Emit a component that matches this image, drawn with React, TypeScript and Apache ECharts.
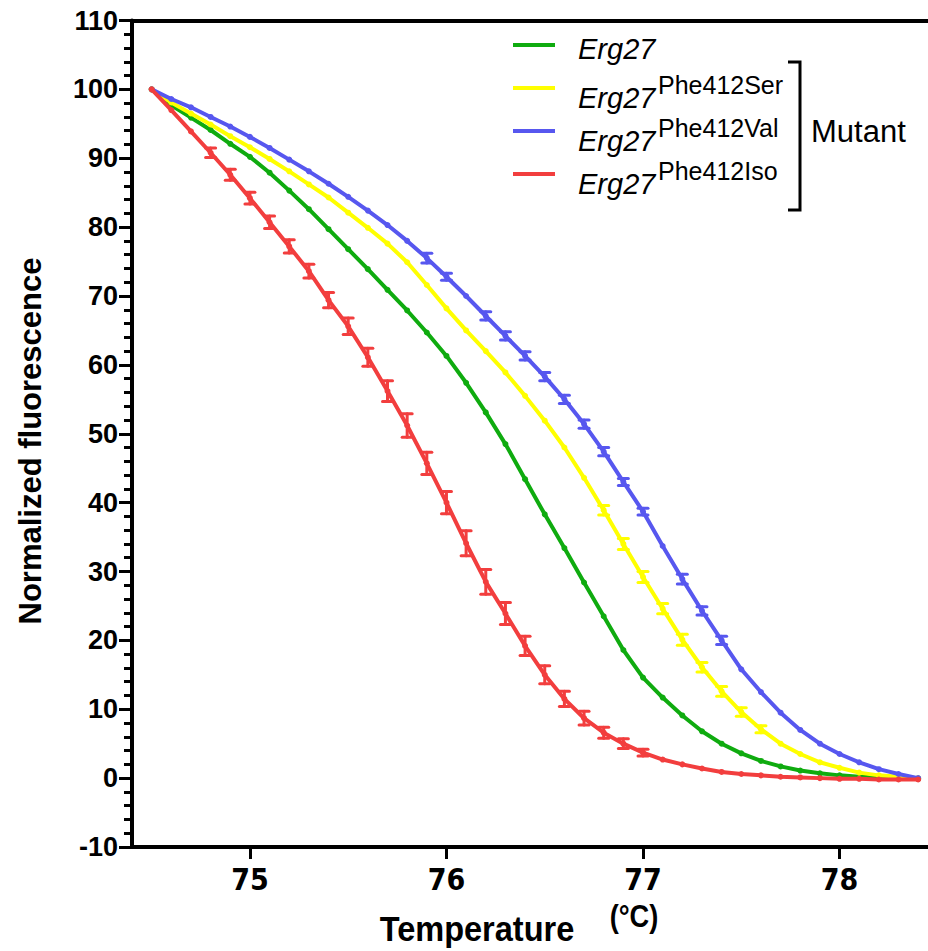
import React, { useEffect, useRef } from "react";
import * as echarts from "echarts";

// ---- data ----
const temperatures = [
  74.5, 74.6, 74.7, 74.8, 74.9, 75.0, 75.1, 75.2, 75.3, 75.4,
  75.5, 75.6, 75.7, 75.8, 75.9, 76.0, 76.1, 76.2, 76.3, 76.4,
  76.5, 76.6, 76.7, 76.8, 76.9, 77.0, 77.1, 77.2, 77.3, 77.4,
  77.5, 77.6, 77.7, 77.8, 77.9, 78.0, 78.1, 78.2, 78.3, 78.4,
];

const wildType = [
  100, 97.7, 95.9, 94.1, 92.1, 90.2, 87.9, 85.3, 82.6, 79.7,
  76.8, 73.9, 70.9, 67.9, 64.7, 61.3, 57.4, 53.1, 48.5, 43.4,
  38.3, 33.4, 28.4, 23.5, 18.6, 14.6, 11.7, 9.1, 6.8, 5.0,
  3.6, 2.5, 1.7, 1.1, 0.7, 0.4, 0.2, 0.1, 0.0, -0.1,
];
const wildTypeErr = [
  0, 0.1, 0.1, 0.1, 0.1, 0.1, 0.1, 0.1, 0.1, 0.1,
  0.1, 0.1, 0.1, 0.1, 0.1, 0.1, 0.1, 0.1, 0.1, 0.1,
  0.1, 0.1, 0.1, 0.1, 0.1, 0.1, 0.1, 0.1, 0.1, 0.1,
  0.1, 0.1, 0.1, 0.1, 0.1, 0.1, 0.1, 0.1, 0.1, 0.1,
];

const phe412Ser = [
  100, 98.1, 96.5, 94.9, 93.2, 91.6, 89.9, 88.1, 86.2, 84.3,
  82.1, 79.9, 77.6, 74.9, 71.6, 68.2, 65.0, 62.0, 58.9, 55.5,
  51.9, 48.0, 43.6, 38.9, 34.0, 29.2, 24.6, 20.1, 16.1, 12.6,
  9.6, 7.1, 5.0, 3.5, 2.3, 1.5, 0.8, 0.4, 0.2, 0.0,
];
const phe412SerErr = [
  0, 0.2, 0.2, 0.2, 0.2, 0.2, 0.2, 0.2, 0.2, 0.2,
  0.2, 0.2, 0.3, 0.3, 0.3, 0.3, 0.3, 0.3, 0.3, 0.3,
  0.3, 0.3, 0.3, 0.7, 0.8, 0.8, 0.75, 0.8, 0.7, 0.7,
  0.6, 0.5, 0.3, 0.2, 0.2, 0.1, 0.1, 0.1, 0.1, 0.1,
];

const phe412Val = [
  100, 98.6, 97.4, 96.0, 94.6, 93.1, 91.5, 89.8, 88.1, 86.3,
  84.4, 82.4, 80.3, 78.0, 75.5, 72.8, 70.0, 67.1, 64.2, 61.3,
  58.3, 55.0, 51.4, 47.4, 43.0, 38.7, 33.7, 28.9, 24.3, 20.0,
  15.8, 12.5, 9.5, 7.0, 5.0, 3.5, 2.3, 1.3, 0.6, 0.0,
];
const phe412ValErr = [
  0, 0.2, 0.2, 0.2, 0.2, 0.2, 0.2, 0.2, 0.2, 0.2,
  0.2, 0.2, 0.3, 0.3, 0.7, 0.5, 0.3, 0.6, 0.6, 0.6,
  0.6, 0.6, 0.6, 0.6, 0.5, 0.5, 0.3, 0.7, 0.6, 0.6,
  0.3, 0.2, 0.2, 0.2, 0.1, 0.1, 0.1, 0.1, 0.1, 0.1,
];

const phe412Iso = [
  100, 97.0, 93.9, 90.8, 87.6, 84.2, 80.7, 77.2, 73.6, 69.4,
  65.6, 61.1, 56.2, 51.2, 45.7, 40.0, 34.1, 28.5, 23.9, 19.2,
  15.0, 11.5, 8.7, 6.6, 5.0, 3.7, 2.7, 2.0, 1.4, 0.9,
  0.6, 0.4, 0.2, 0.1, 0.0, -0.1, -0.1, -0.2, -0.2, -0.2,
];
const phe412IsoErr = [
  0, 0.3, 0.3, 0.7, 0.8, 0.85, 0.9, 0.95, 1.0, 1.1,
  1.2, 1.3, 1.5, 1.7, 1.6, 1.6, 1.8, 1.8, 1.6, 1.4,
  1.3, 1.1, 1.0, 0.8, 0.7, 0.5, 0.3, 0.3, 0.2, 0.1,
  0.1, 0.1, 0.1, 0.1, 0.1, 0.1, 0.1, 0.1, 0.1, 0.1,
];

const seriesNames = ["Erg27", "Erg27 Phe412Ser", "Erg27 Phe412Val", "Erg27 Phe412Iso"];
const superscripts = ["", "Phe412Ser", "Phe412Val", "Phe412Iso"];
const seriesColors = ["#0fab0f", "#ffff00", "#5757ef", "#f23e3e"];
const xTicks = [75, 76, 77, 78];

const App: React.FC = () => {
  const ref = useRef<HTMLDivElement>(null);

  useEffect(() => {
    if (!ref.current) return;
    const chart = echarts.init(ref.current, null, { renderer: "svg" });

    const values = [wildType, phe412Ser, phe412Val, phe412Iso];
    const errors = [wildTypeErr, phe412SerErr, phe412ValErr, phe412IsoErr];

    const series: any[] = [];
    values.forEach((vals, i) => {
      const color = seriesColors[i];
      series.push({
        name: seriesNames[i],
        type: "line",
        xAxisIndex: 0,
        yAxisIndex: 0,
        data: temperatures.map((t, k) => [t, vals[k]]),
        symbol: "circle",
        symbolSize: 6,
        showSymbol: true,
        lineStyle: { color, width: 4 },
        itemStyle: { color },
        z: 2 + i * 2,
      });
      series.push({
        name: seriesNames[i] + " error",
        type: "custom",
        xAxisIndex: 0,
        yAxisIndex: 0,
        data: temperatures.map((t, k) => [t, vals[k], errors[i][k]]),
        z: 3 + i * 2,
        renderItem: (params: any, api: any) => {
          const x = api.value(0);
          const v = api.value(1);
          const e = api.value(2);
          if (e < 0.4) return { type: "group", children: [] };
          const top = api.coord([x, v + e]);
          const bot = api.coord([x, v - e]);
          const hw = 5;
          const st = { stroke: color, lineWidth: 3, lineCap: "round" };
          return {
            type: "group",
            children: [
              { type: "line", shape: { x1: top[0], y1: top[1], x2: bot[0], y2: bot[1] }, style: st },
              { type: "line", shape: { x1: top[0] - hw, y1: top[1], x2: top[0] + hw, y2: top[1] }, style: st },
              { type: "line", shape: { x1: bot[0] - hw, y1: bot[1], x2: bot[0] + hw, y2: bot[1] }, style: st },
            ],
          };
        },
      });
    });

    // legend drawn as graphics (superscript labels)
    const legendGraphics: any[] = [];
    seriesNames.forEach((_, i) => {
      const ly = 45 + 43 * i;
      legendGraphics.push({
        type: "line",
        shape: { x1: 513, y1: ly, x2: 555, y2: ly },
        style: { stroke: seriesColors[i], lineWidth: 4 },
      });
      legendGraphics.push({
        type: "text",
        x: 578,
        y: i === 0 ? ly + 4 : ly + 10,
        style: {
          text: "Erg27",
          font: "italic 29px 'Liberation Sans', Arial, sans-serif",
          fill: "#000",
          verticalAlign: "middle",
          align: "left",
        },
      });
      if (superscripts[i]) {
        legendGraphics.push({
          type: "text",
          x: 658,
          y: ly - 3,
          style: {
            text: superscripts[i],
            font: "25px 'Liberation Sans', Arial, sans-serif",
            fill: "#000",
            verticalAlign: "middle",
            align: "left",
          },
        });
      }
    });

    chart.setOption({
      animation: false,
      textStyle: { fontFamily: "'Liberation Sans', Arial, sans-serif" },
      grid: { left: 132, top: 20.5, right: 0, bottom: 104, containLabel: false },
      xAxis: [
        {
          type: "value",
          position: "bottom",
          min: 74.4,
          max: 78.45,
          axisLine: { show: true, onZero: false, lineStyle: { color: "#000", width: 4 } },
          axisTick: { show: true, customValues: xTicks, length: 12, lineStyle: { color: "#000", width: 3 } },
          axisLabel: {
            show: true,
            customValues: xTicks,
            margin: 17,
            color: "#000",
            fontWeight: "bold",
            fontSize: 30,
            fontFamily: "'Liberation Sans Narrow', 'Arial Narrow', 'DejaVu Sans Condensed', sans-serif",
          },
          splitLine: { show: false },
        },
        {
          type: "value",
          position: "top",
          min: 74.4,
          max: 78.45,
          axisLine: { show: true, onZero: false, lineStyle: { color: "#000", width: 4 } },
          axisTick: { show: false },
          axisLabel: { show: false },
          splitLine: { show: false },
        },
      ],
      yAxis: {
        type: "value",
        min: -10,
        max: 110,
        interval: 10,
        axisLine: { show: true, onZero: false, lineStyle: { color: "#000", width: 4 } },
        axisTick: { show: true, length: 13, lineStyle: { color: "#000", width: 3 } },
        minorTick: { show: true, splitNumber: 5, length: 8, lineStyle: { color: "#000", width: 3 } },
        axisLabel: {
          margin: 14,
          color: "#000",
          fontWeight: "bold",
          fontSize: 27,
          fontFamily: "'Liberation Sans', Arial, sans-serif",
        },
        splitLine: { show: false },
        minorSplitLine: { show: false },
      },
      series,
      graphic: [
        ...legendGraphics,
        {
          type: "polyline",
          shape: { points: [[788, 62], [800, 62], [800, 210], [788, 210]] },
          style: { stroke: "#000", lineWidth: 3, fill: null },
        },
        {
          type: "text",
          x: 811,
          y: 131,
          style: {
            text: "Mutant",
            font: "31px 'Liberation Sans', Arial, sans-serif",
            fill: "#000",
            verticalAlign: "middle",
            align: "left",
          },
        },
        {
          type: "text",
          x: 30,
          y: 441,
          rotation: Math.PI / 2,
          style: {
            text: "Normalized fluorescence",
            font: "bold 31px 'Liberation Sans', Arial, sans-serif",
            fill: "#000",
            verticalAlign: "middle",
            align: "center",
          },
        },
        {
          type: "text",
          x: 477,
          y: 929,
          scaleX: 0.93,
          style: {
            text: "Temperature",
            font: "bold 35px 'Liberation Sans', Arial, sans-serif",
            fill: "#000",
            verticalAlign: "middle",
            align: "center",
          },
        },
        {
          type: "text",
          x: 634,
          y: 916,
          scaleX: 0.85,
          style: {
            text: "(°C)",
            font: "bold 32px 'Liberation Sans', Arial, sans-serif",
            fill: "#000",
            verticalAlign: "middle",
            align: "center",
          },
        },
      ],
    });

    return () => chart.dispose();
  }, []);

  return (
    <div
      ref={ref}
      style={{ position: "fixed", left: 0, top: 0, width: 928, height: 951, background: "#fff" }}
    />
  );
};

export default App;
